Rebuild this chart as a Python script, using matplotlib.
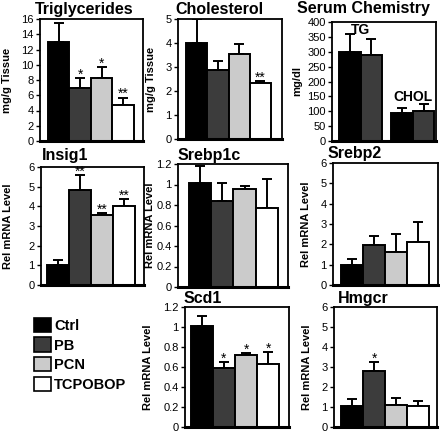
import numpy as np
import matplotlib
matplotlib.use("Agg")
from matplotlib import pyplot as plt
from matplotlib.patches import Patch

plt.rcParams['font.family'] = ['Liberation Sans', 'DejaVu Sans']

groups = ["Ctrl", "PB", "PCN", "TCPOBOP"]
colors = ["#000000", "#3c3c3c", "#cbcbcb", "#ffffff"]

# values (mean, upper error)
tg_mean = [13.0, 6.9, 8.2, 4.7]
tg_err = [2.5, 1.3, 1.5, 1.0]
tg_sig = ["", "*", "*", "**"]

chol_mean = [4.0, 2.87, 3.55, 2.32]
chol_err = [1.0, 0.4, 0.4, 0.1]
chol_sig = ["", "", "", "**"]

serum_labels = ["TG", "CHOL"]
serum_tg_mean = [300, 288]
serum_tg_err = [60, 55]
serum_chol_mean = [93, 102]
serum_chol_err = [17, 22]

insig_mean = [1.0, 4.85, 3.55, 4.0]
insig_err = [0.27, 0.75, 0.12, 0.35]
insig_sig = ["", "**", "**", "**"]

srebp1c_mean = [1.01, 0.84, 0.96, 0.77]
srebp1c_err = [0.17, 0.17, 0.03, 0.28]

srebp2_mean = [1.0, 1.95, 1.62, 2.1]
srebp2_err = [0.3, 0.45, 0.87, 1.0]

scd1_mean = [1.01, 0.59, 0.72, 0.63]
scd1_err = [0.1, 0.06, 0.02, 0.12]
scd1_sig = ["", "*", "*", "*"]

hmgcr_mean = [1.05, 2.78, 1.1, 1.05]
hmgcr_err = [0.35, 0.45, 0.33, 0.25]
hmgcr_sig = ["", "*", "", ""]

W, H = 440, 433
fig = plt.figure(figsize=(W / 100, H / 100), dpi=100)


def px_axes(l, t, r, b):
    return fig.add_axes([l / W, 1 - b / H, (r - l) / W, (b - t) / H])


def style(ax, ymax, step, xlim):
    ax.set_ylim(0, ymax)
    ax.set_xlim(*xlim)
    ax.set_yticks(np.arange(0, ymax + step / 2, step))
    ax.yaxis.set_major_formatter(matplotlib.ticker.FormatStrFormatter('%g'))
    ax.set_xticks([])
    ax.tick_params(axis='y', direction='out', length=3, width=1, labelsize=8, pad=1.5)
    for s in ax.spines.values():
        s.set_linewidth(1.3)
    ax.spines['bottom'].set_linewidth(2.2)


def bars(ax, x, mean, err, cols, sig=None, fs=10):
    ax.bar(x, mean, width=1.0, color=cols, edgecolor='black', linewidth=1.4, zorder=2)
    ax.errorbar(x, mean, yerr=[np.zeros(len(mean)), err], fmt='none', ecolor='black',
                elinewidth=1.4, capsize=3.5, capthick=1.4, zorder=1)
    if sig:
        for xi, m, e, s in zip(x, mean, err, sig):
            if s:
                ax.annotate(s, (xi, m + e), xytext=(0, -2.5), textcoords='offset points',
                            ha='center', va='bottom', fontsize=fs)


def title(x, y, text):
    fig.text(x / W, 1 - y / H, text, fontsize=11.5, fontweight='bold', va='baseline', ha='left')


def ylab(x, ax, text):
    pos = ax.get_position()
    fig.text(x / W, pos.y0 + pos.height / 2, text, rotation=90, fontsize=8,
             fontweight='bold', ha='center', va='center')


x4 = np.arange(4)

# Triglycerides
ax = px_axes(40, 19, 143, 141)
bars(ax, x4, tg_mean, tg_err, colors, tg_sig)
style(ax, 16, 2, (-0.87, 3.92))
title(35, 14, "Triglycerides")
ylab(7, ax, "mg/g Tissue")

# Cholesterol
ax = px_axes(178, 19, 282, 139)
bars(ax, x4, chol_mean, chol_err, colors, chol_sig)
style(ax, 5, 1, (-0.88, 4.02))
title(175, 14, "Cholesterol")
ylab(151, ax, "mg/g Tissue")

# Serum Chemistry
ax = px_axes(332, 22, 436, 141)
xs = np.array([0, 1, 2.42, 3.42])
bars(ax, xs, serum_tg_mean + serum_chol_mean, serum_tg_err + serum_chol_err,
     colors[:2] + colors[:2])
style(ax, 400, 50, (-0.83, 4.0))
ax.text(0.5, 372, serum_labels[0], fontsize=10, fontweight='bold', ha='center', va='center')
ax.text(2.92, 148, serum_labels[1], fontsize=10, fontweight='bold', ha='center', va='center')
title(297, 13, "Serum Chemistry")
ylab(297, ax, "mg/dl")

# Insig1
ax = px_axes(41, 167, 144, 285)
bars(ax, x4, insig_mean, insig_err, colors, insig_sig)
style(ax, 6, 1, (-0.77, 3.9))
title(42, 160, "Insig1")
ylab(8, ax, "Rel mRNA Level")

# Srebp1c
ax = px_axes(178, 164, 288, 287)
bars(ax, x4, srebp1c_mean, srebp1c_err, colors)
style(ax, 1.2, 0.2, (-0.99, 3.95))
title(178, 160, "Srebp1c")
ylab(150, ax, "Rel mRNA Level")

# Srebp2
ax = px_axes(333, 163, 438, 285)
bars(ax, x4, srebp2_mean, srebp2_err, colors)
style(ax, 6, 1, (-0.86, 3.9))
title(328, 158, "Srebp2")
ylab(306, ax, "Rel mRNA Level")

# Scd1
ax = px_axes(185, 307, 289, 427)
bars(ax, x4, scd1_mean, scd1_err, colors, scd1_sig)
style(ax, 1.2, 0.2, (-0.77, 3.95))
title(184, 303, "Scd1")
ylab(148, ax, "Rel mRNA Level")

# Hmgcr
ax = px_axes(334, 307, 437, 427)
bars(ax, x4, hmgcr_mean, hmgcr_err, colors, hmgcr_sig)
style(ax, 6, 1, (-0.82, 3.86))
title(338, 303, "Hmgcr")
ylab(307, ax, "Rel mRNA Level")

# legend
handles = [Patch(facecolor=c, edgecolor='black', linewidth=1.2) for c in colors]
fig.legend(handles, groups, loc='upper left', bbox_to_anchor=(31 / W, 1 - 315 / H),
           frameon=False, prop={'weight': 'bold', 'size': 10.5},
           handlelength=1.15, handleheight=1.15, labelspacing=0.3, handletextpad=0.25,
           borderaxespad=0, borderpad=0.2)

fig.savefig("out.png", dpi=100)
